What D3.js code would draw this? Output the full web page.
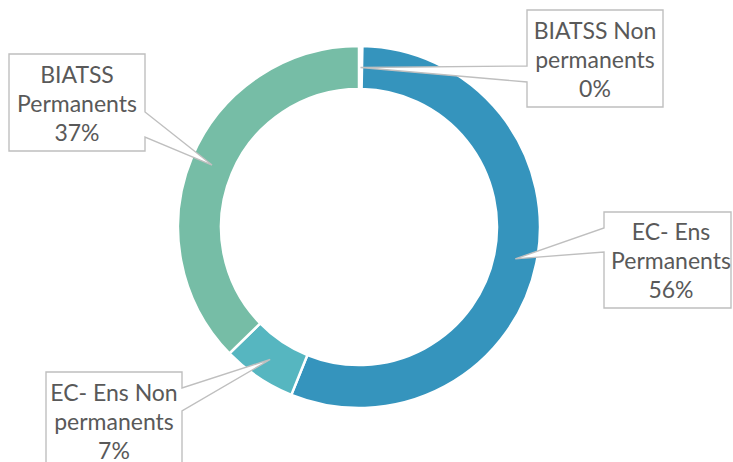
<!DOCTYPE html>
<html>
<head>
<meta charset="utf-8">
<script src="https://cdn.jsdelivr.net/npm/d3@7"></script>
<style>
  html, body { margin: 0; padding: 0; background: #fff; }
  svg { display: block; }
</style>
</head>
<body>
<svg class="chart"></svg>
<script>
var width = 733,
    height = 462;

// data (clockwise from 12 o'clock)
const categories = ["BIATSS Non permanents", "EC- Ens Permanents", "EC- Ens Non permanents", "BIATSS Permanents"];
const shares = [0.3, 55.8, 6.6, 37.3];
const labelLines = [["BIATSS Non", "permanents"], ["EC- Ens", "Permanents"], ["EC- Ens Non", "permanents"], ["BIATSS", "Permanents"]];
// the 0% slice only shows as a white gap in the picture
const colors = ["#FFFFFF", "#3594BD", "#56B6C0", "#76BDA6"];

// callout boxes: box edges, text centre, which edge the pointer leaves from, pointer base on that edge
const callouts = [
  { x0: 527, x1: 663, y0: 10,  y1: 107, cx: 595, side: "left",  b0: 66,  b1: 82 },
  { x0: 604, x1: 731, y0: 212, y1: 308, cx: 671, side: "left",  b0: 228, b1: 252 },
  { x0: 46,  x1: 182, y0: 372, y1: 469, cx: 114, side: "right", b0: 388, b1: 411 },
  { x0: 9,   x1: 145, y0: 54,  y1: 151, cx: 77,  side: "right", b0: 112, b1: 137 }
];

var cx = 359, cy = 227,
    outerR = 181, innerR = 138;

var svg = d3.select(".chart")
            .attr("width", width)
            .attr("height", height);

var total = d3.sum(shares);
var pct = d3.format(".0%");

var pie = d3.pie().sort(null).value(d => d);
var arc = d3.arc().innerRadius(innerR).outerRadius(outerR);

var arcs = pie(shares);

var g = svg.append("g").attr("transform", `translate(${cx},${cy})`);

g.selectAll("path.slice")
 .data(arcs)
 .join("path")
 .attr("class", "slice")
 .attr("d", arc)
 .attr("fill", (d, i) => colors[i])
 .attr("stroke", "#fff")
 .attr("stroke-width", 2.5);

// callouts
var labels = svg.selectAll("g.callout")
                .data(arcs)
                .join("g")
                .attr("class", "callout");

labels.append("path")
      .attr("d", (d, i) => {
          var c = callouts[i];
          var t = arc.centroid(d);
          var tx = cx + t[0], ty = cy + t[1];
          var p = d3.path();
          if (c.side === "left") {
              p.moveTo(c.x0, c.y0);
              p.lineTo(c.x1, c.y0);
              p.lineTo(c.x1, c.y1);
              p.lineTo(c.x0, c.y1);
              p.lineTo(c.x0, c.b1);
              p.lineTo(tx, ty);
              p.lineTo(c.x0, c.b0);
          } else {
              p.moveTo(c.x0, c.y0);
              p.lineTo(c.x1, c.y0);
              p.lineTo(c.x1, c.b0);
              p.lineTo(tx, ty);
              p.lineTo(c.x1, c.b1);
              p.lineTo(c.x1, c.y1);
              p.lineTo(c.x0, c.y1);
          }
          p.closePath();
          return p.toString();
      })
      .attr("fill", "#fff")
      .attr("stroke", "#BFBFBF")
      .attr("stroke-width", 1.4);

labels.append("text")
      .attr("font-family", "Lato, 'Open Sans', sans-serif")
      .attr("font-size", 23)
      .attr("fill", "#595959")
      .attr("text-anchor", "middle")
      .selectAll("tspan")
      .data((d, i) => labelLines[i].concat([pct(d.data / total)]).map(s => ({ s: s, i: i })))
      .join("tspan")
      .attr("x", d => callouts[d.i].cx)
      .attr("y", (d, j) => {
          var c = callouts[d.i];
          return (c.y0 + c.y1) / 2 + 9 + (j - 1) * 29;
      })
      .text(d => d.s);
</script>
</body>
</html>
